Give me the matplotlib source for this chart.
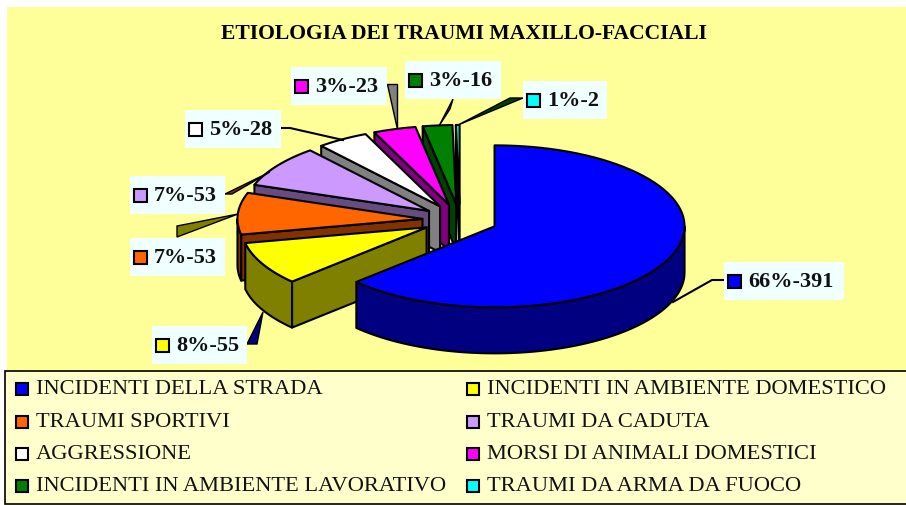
import matplotlib
matplotlib.use("Agg")
import matplotlib.pyplot as plt
from matplotlib.patches import Rectangle
import numpy as np

# --- data ---
categorie = ["INCIDENTI DELLA STRADA", "INCIDENTI IN AMBIENTE DOMESTICO", "TRAUMI SPORTIVI",
             "TRAUMI DA CADUTA", "AGGRESSIONE", "MORSI DI ANIMALI DOMESTICI",
             "INCIDENTI IN AMBIENTE LAVORATIVO", "TRAUMI DA ARMA DA FUOCO"]
valori = [391, 55, 53, 53, 28, 23, 16, 2]
percentuali = [66, 8, 7, 7, 5, 3, 3, 1]
titolo = "ETIOLOGIA DEI TRAUMI MAXILLO-FACCIALI"

# --- styles ---
colori = ["#0000FF", "#FFFF00", "#FF6600", "#CC99FF", "#FFFFFF", "#FF00FF", "#008000", "#00FFFF"]
scuri = ["#000080", "#808000", "#803300", "#664C80", "#808080", "#800080", "#004000", "#008080"]

# pie geometry, in pixels
cx, cy = 460, 221
rx, ry = 190, 81
rx_piccole, ry_piccole = 185, 79  # the small slices are a bit tighter than the big one
esplosione = 0.198
spessore = 46


def punto(t, ox, oy, a, b):
    return ox + a * np.sin(t), oy - b * np.cos(t)


fig = plt.figure(figsize=(9.06, 5.06), dpi=100)
ax = fig.add_axes([0, 0, 1, 1])
ax.set_xlim(0, 906)
ax.set_ylim(506, 0)
ax.axis("off")

ax.add_patch(Rectangle((7, 8), 899, 364, fc="#FFFF99", ec="none", zorder=0))
ax.add_patch(Rectangle((5, 372), 902, 133, fc="#FFFFCC", ec="black", lw=1.2, zorder=0))
ax.text(464, 34, titolo, family="Liberation Serif", weight="bold", fontsize=15.6,
        ha="center", va="center")

# --- pie: back slices first, the big one last ---
angoli = np.cumsum([0] + valori) / sum(valori) * 2 * np.pi
z = 5
for i in list(range(1, len(valori)))[::-1] + [0]:
    t1, t2 = angoli[i], angoli[i + 1]
    mid = (t1 + t2) / 2
    ox = cx + esplosione * rx * np.sin(mid)
    oy = cy - esplosione * ry * np.cos(mid)
    ra, rb = (rx, ry) if i == 0 else (rx_piccole, ry_piccole)
    # wall on the leading edge
    if i != 0:
        ex, ey = punto(t1, ox, oy, ra, rb)
        ax.fill([ox, ex, ex, ox], [oy, ey, ey + spessore, oy + spessore],
                fc=scuri[i], ec="black", lw=1.5, zorder=z, joinstyle="round")
    # outer rim, only the part facing the viewer
    a, b = max(t1, np.pi / 2), min(t2, 3 * np.pi / 2)
    if b > a:
        tt = np.linspace(a, b, 80)
        xa, ya = punto(tt, ox, oy, ra, rb)
        ax.fill(np.r_[xa, xa[::-1]], np.r_[ya, ya[::-1] + spessore],
                fc=scuri[i], ec="black", lw=1.5, zorder=z, joinstyle="round")
    # top face
    tt = np.linspace(t1, t2, 80)
    xa, ya = punto(tt, ox, oy, ra, rb)
    ax.fill(np.r_[ox, xa], np.r_[oy, ya], fc=colori[i], ec="black", lw=1.5,
            zorder=z + 0.5, joinstyle="round")
    z += 1

# --- data labels: box x0, x1, y0, y1 ---
box_etichette = [(724, 844, 263, 301), (152, 247, 327, 365), (130, 225, 239, 277),
                 (130, 225, 177, 215), (185, 281, 111, 149), (291, 387, 68, 106),
                 (405, 501, 62, 100), (523, 607, 82, 120)]
# leader shapes, the original ones taper like wedges
guide = [[(724, 281), (712, 281), (673, 303)],
         [(247, 345), (257, 345), (263, 313)],
         [(177, 238), (177, 227), (238, 215)],
         [(225, 195), (232, 195), (270, 173)],
         [(281, 129), (290, 129), (343, 141)],
         [(387, 85), (397, 85), (397, 130)],
         [(453, 100), (450, 110), (439, 127)],
         [(523, 99), (510, 99), (458, 126)]]
colori_guide = ["black", "#000080", "#808000", "#803300", "#000080", "#808080", "#800080", "#004000"]

for i, (x0, x1, y0, y1) in enumerate(box_etichette):
    gx, gy = zip(*guide[i])
    if i in (0, 4):
        ax.plot(gx, gy, color="black", lw=1.5, zorder=20)
    else:
        ax.fill(gx, gy, fc=colori_guide[i], ec="black", lw=1, zorder=20)
    ax.add_patch(Rectangle((x0, y0), x1 - x0, y1 - y0, fc="#F0FFFF", ec="none", zorder=21))
    ym = (y0 + y1) / 2
    ax.add_patch(Rectangle((x0 + 3.5, ym - 6.5), 13, 13, fc=colori[i], ec="black", lw=1.5, zorder=22))
    ax.text(x0 + 24, ym, f"{percentuali[i]}%-{valori[i]}", family="Liberation Serif",
            weight="bold", fontsize=16, ha="left", va="center", zorder=22, color="#111111")

# --- legend ---
righe_y = [390, 423, 455, 487]
colonne_x = [16, 467]
for i, nome in enumerate(categorie):
    x = colonne_x[i % 2]
    y = righe_y[i // 2]
    ax.add_patch(Rectangle((x, y - 6), 12, 12, fc=colori[i], ec="black", lw=1.5, zorder=3))
    ax.text(x + 20, y, nome, family="Liberation Serif", fontsize=16.2, ha="left",
            va="center", color="#111111")

fig.savefig("out.png", dpi=100)
